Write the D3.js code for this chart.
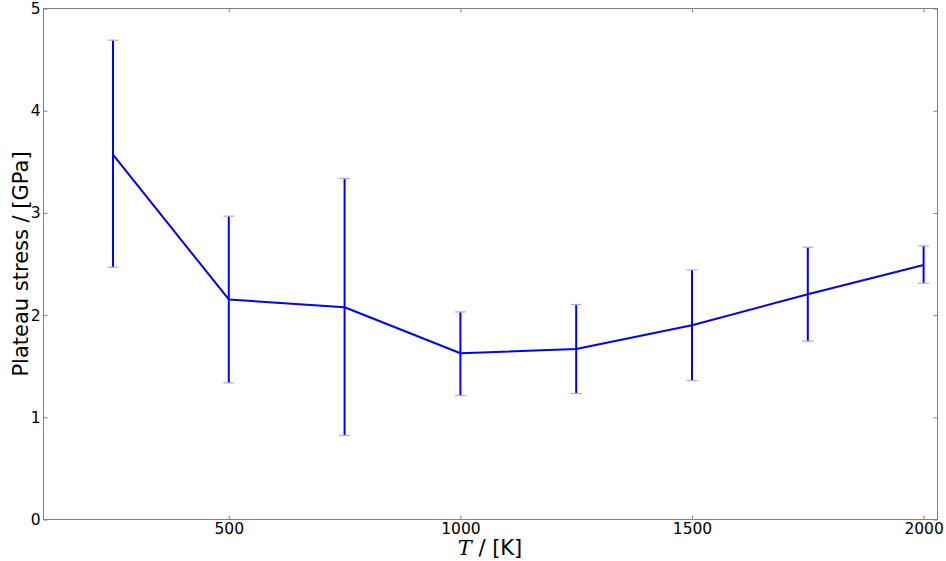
<!DOCTYPE html>
<html><head><meta charset="utf-8">
<script src="https://cdn.jsdelivr.net/npm/d3@7"></script>
<style>body{margin:0;background:#fff}svg{display:block}</style>
</head><body>
<script>
const temps = [250, 500, 750, 1000, 1250, 1500, 1750, 2000];
const stress = [3.57, 2.153, 2.077, 1.627, 1.669, 1.901, 2.204, 2.491];
const errTop = [4.69, 2.968, 3.337, 2.031, 2.104, 2.442, 2.664, 2.677];
const errBottom = [2.469, 1.337, 0.822, 1.213, 1.233, 1.360, 1.745, 2.312];
const xTicks = [500, 1000, 1500, 2000];
const yTicks = [0, 1, 2, 3, 4, 5];

const W = 946, H = 561;
const m = {left: 43.5, right: 8.5, top: 8.5, bottom: 41.5};
const svg = d3.select("body").append("svg").attr("width", W).attr("height", H);
const x = d3.scaleLinear().domain([100, 2030]).range([m.left, W - m.right]);
const y = d3.scaleLinear().domain([0, 5]).range([H - m.bottom, m.top]);
const font = "DejaVu Sans, sans-serif";
const axisColor = "#808080";

svg.append("rect").attr("x", m.left).attr("y", m.top)
  .attr("width", W - m.right - m.left).attr("height", H - m.bottom - m.top)
  .attr("fill", "none").attr("stroke", axisColor).attr("stroke-width", 1);

const xb = svg.append("g").attr("transform", `translate(0,${H - m.bottom})`)
  .call(d3.axisBottom(x).tickValues(xTicks).tickSizeInner(-4).tickSizeOuter(0).tickFormat(d3.format("d")));
const xt = svg.append("g").attr("transform", `translate(0,${m.top})`)
  .call(d3.axisTop(x).tickValues(xTicks).tickSizeInner(-4).tickSizeOuter(0).tickFormat(""));
const yl = svg.append("g").attr("transform", `translate(${m.left},0)`)
  .call(d3.axisLeft(y).tickValues(yTicks).tickSizeInner(-4).tickSizeOuter(0).tickFormat(d3.format("d")));
const yr = svg.append("g").attr("transform", `translate(${W - m.right},0)`)
  .call(d3.axisRight(y).tickValues(yTicks).tickSizeInner(-4).tickSizeOuter(0).tickFormat(""));
[xb, xt, yl, yr].forEach(g => {
  g.select(".domain").remove();
  g.selectAll(".tick line").attr("stroke", axisColor);
  g.selectAll(".tick text").attr("fill", "#000").attr("font-family", font).attr("font-size", 15.5);
});
xb.selectAll(".tick text").attr("dy", "0.71em").attr("y", 3);
yl.selectAll(".tick text").attr("x", -3);

const gE = svg.append("g");
temps.forEach((t, i) => {
  gE.append("line").attr("x1", x(t)).attr("x2", x(t)).attr("y1", y(errTop[i])).attr("y2", y(errBottom[i]))
    .attr("stroke", "#0000ff").attr("stroke-width", 2);
  [errTop[i], errBottom[i]].forEach(v => {
    gE.append("line").attr("x1", x(t) - 5.5).attr("x2", x(t) + 5.5).attr("y1", y(v)).attr("y2", y(v))
      .attr("stroke", "#a8a8ff").attr("stroke-width", 1.2);
  });
});

svg.append("path").datum(temps.map((t, i) => [t, stress[i]]))
  .attr("d", d3.line().x(d => x(d[0])).y(d => y(d[1])))
  .attr("fill", "none").attr("stroke", "#0000ff").attr("stroke-width", 2).attr("stroke-linejoin", "round");

svg.append("text").attr("transform", `translate(28,${(m.top + H - m.bottom) / 2}) rotate(-90)`)
  .attr("text-anchor", "middle").attr("font-family", font).attr("font-size", 21).attr("fill", "#000")
  .text("Plateau stress / [GPa]");
const xLab = svg.append("text").attr("x", 490).attr("y", 555)
  .attr("text-anchor", "middle").attr("font-family", font).attr("font-size", 21).attr("fill", "#000");
xLab.append("tspan").attr("font-family", "DejaVu Serif, serif").attr("font-style", "italic").text("T");
xLab.append("tspan").text(" / [K]");
</script>
</body></html>
